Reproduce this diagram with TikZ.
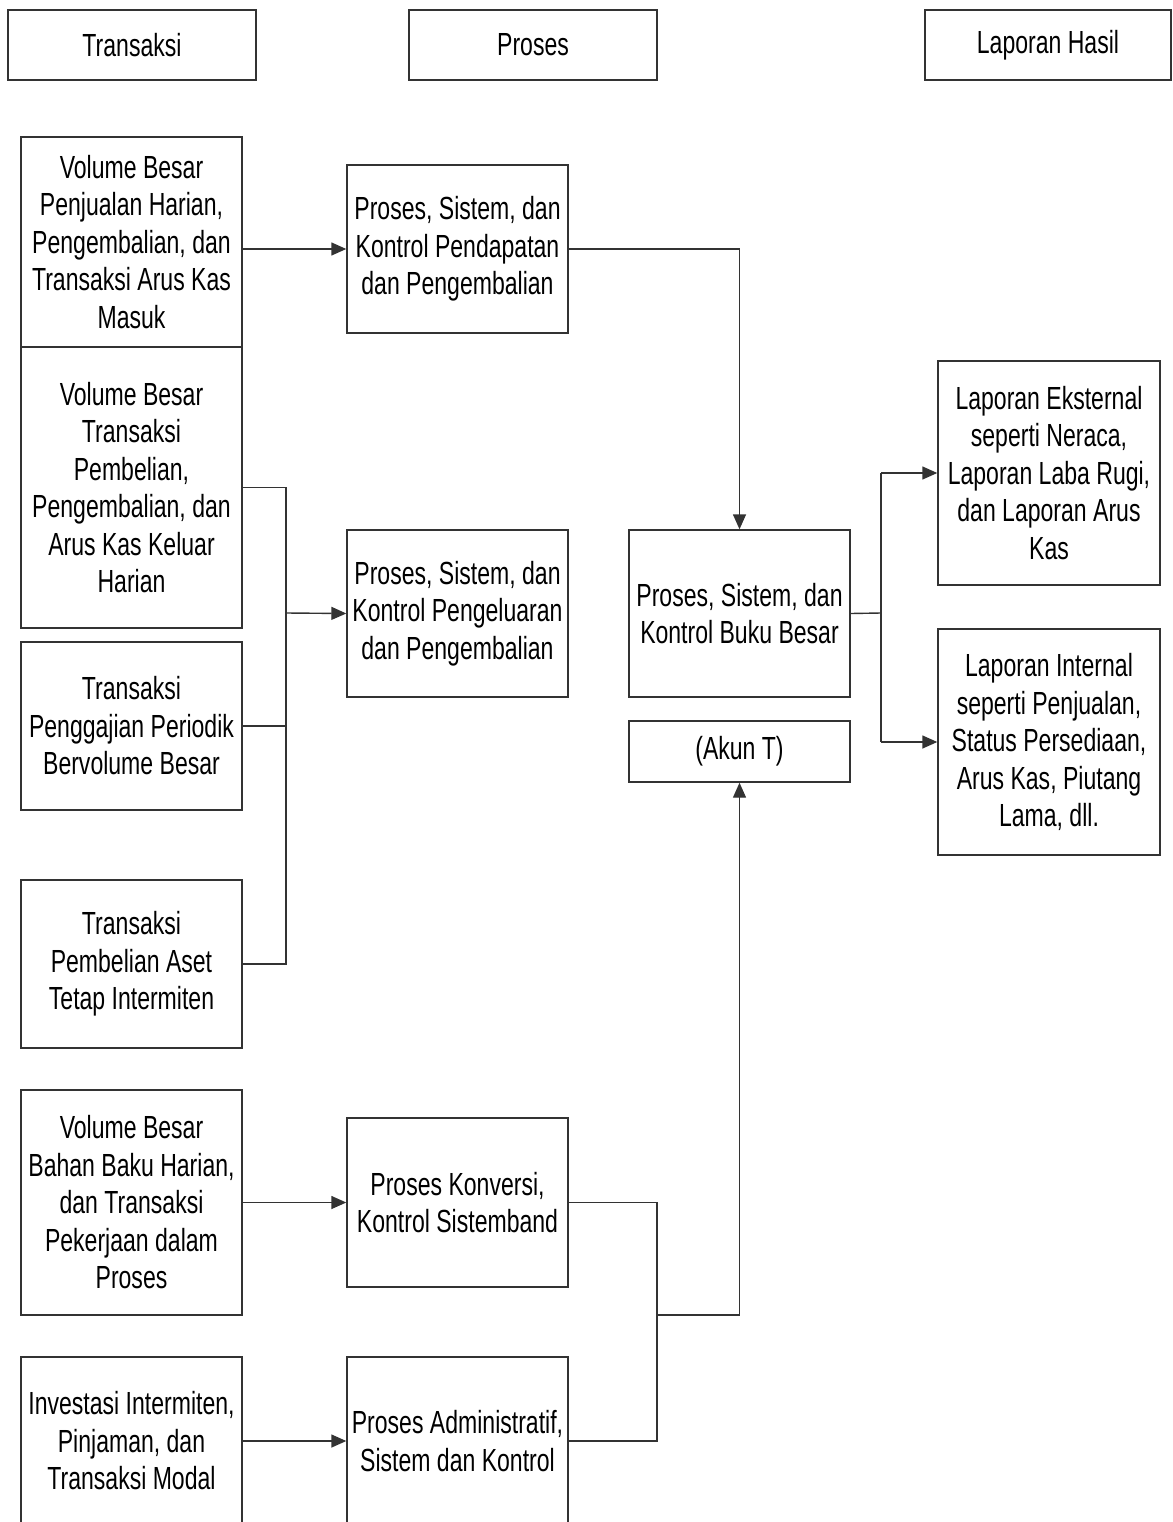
\documentclass[tikz,border=0pt]{standalone}
\usepackage{fontspec}
\setmainfont{Liberation Sans}[FakeStretch=0.72]
\usetikzlibrary{arrows.meta}
\newcommand\boxfont{\fontsize{32}{37.5}\selectfont}
\begin{document}
\begin{tikzpicture}[x=1pt,y=-1pt,
  box/.style={draw=black!80, line width=1.4pt, fill=white, align=center,
    inner sep=0pt, minimum width=221pt, font=\boxfont},
  hdr/.style={box, minimum width=248pt, minimum height=70pt},
  conn/.style={draw=black!80, line width=1.4pt},
  arr/.style={conn, -{Triangle[length=15pt,width=13pt]}}]
\useasboundingbox (0,0) rectangle (1172,1522);
\clip (0,0) rectangle (1172,1522);

% column headers
\node[hdr] (hT) at (132,45) {Transaksi};
\node[hdr] (hP) at (533,45) {Proses};
\node[hdr, minimum width=246pt] (hL) at (1048,45) {Laporan Hasil};

% transactions
\node[box, minimum height=210pt] (t1) at (131.5,242)
  {Volume Besar\\Penjualan Harian,\\Pengembalian, dan\\Transaksi Arus Kas\\Masuk};
\node[box, minimum height=281pt] (t2) at (131.5,487.5)
  {Volume Besar\\Transaksi\\Pembelian,\\Pengembalian, dan\\Arus Kas Keluar\\Harian};
\node[box, minimum height=168pt] (t3) at (131.5,726)
  {Transaksi\\Penggajian Periodik\\Bervolume Besar};
\node[box, minimum height=168pt] (t4) at (131.5,964)
  {Transaksi\\Pembelian Aset\\Tetap Intermiten};
\node[box, minimum height=225pt] (t5) at (131.5,1202.5)
  {Volume Besar\\Bahan Baku Harian,\\dan Transaksi\\Pekerjaan dalam\\Proses};
\node[box, minimum height=168pt] (t6) at (131.5,1441)
  {Investasi Intermiten,\\Pinjaman, dan\\Transaksi Modal};

% processes
\node[box, minimum height=168pt] (pA) at (457.5,249)
  {Proses, Sistem, dan\\Kontrol Pendapatan\\dan Pengembalian};
\node[box, minimum height=167pt] (pB) at (457.5,613.5)
  {Proses, Sistem, dan\\Kontrol Pengeluaran\\dan Pengembalian};
\node[box, minimum height=169pt] (pC) at (457.5,1202.5)
  {Proses Konversi,\\Kontrol Sistemband};
\node[box, minimum height=168pt] (pD) at (457.5,1441)
  {Proses Administratif,\\Sistem dan Kontrol};

% general ledger
\node[box, minimum height=167pt] (gl) at (739.5,613.5)
  {Proses, Sistem, dan\\Kontrol Buku Besar};
\node[box, minimum height=61pt] (akun) at (739.5,751.5) {(Akun T)};

% reports
\node[box, minimum width=222pt, minimum height=224pt] (rE) at (1049,473)
  {Laporan Eksternal\\seperti Neraca,\\Laporan Laba Rugi,\\dan Laporan Arus\\Kas};
\node[box, minimum width=222pt, minimum height=226pt] (rF) at (1049,742)
  {Laporan Internal\\seperti Penjualan,\\Status Persediaan,\\Arus Kas, Piutang\\Lama, dll.};

% junction points
\coordinate (bus) at (286,613);
\coordinate (jn) at (657,1315);
\coordinate (rb) at (881,613);

% connectors
\draw[arr] (t1.east |- pA.west) -- (pA.west);
\draw[conn] (t2.east) -- (t2.east -| bus) -- (t4.east -| bus) -- (t4.east);
\draw[conn] (t3.east) -- (t3.east -| bus);
\draw[arr] (bus) -- (pB.west);
\draw[arr] (t5.east |- pC.west) -- (pC.west);
\draw[arr] (t6.east) -- (pD.west);
\draw[arr] (pA.east) -| (gl.north);
\draw[conn] (pC.east) -- (pC.east -| jn) -- (pD.east -| jn) -- (pD.east);
\draw[arr] (jn) -| (akun.south);
\draw[conn] (gl.east) -- (rb);
\draw[conn] (rE.west -| rb) -- (rF.west -| rb);
\draw[arr] (rE.west -| rb) -- (rE.west);
\draw[arr] (rF.west -| rb) -- (rF.west);
\end{tikzpicture}
\end{document}
